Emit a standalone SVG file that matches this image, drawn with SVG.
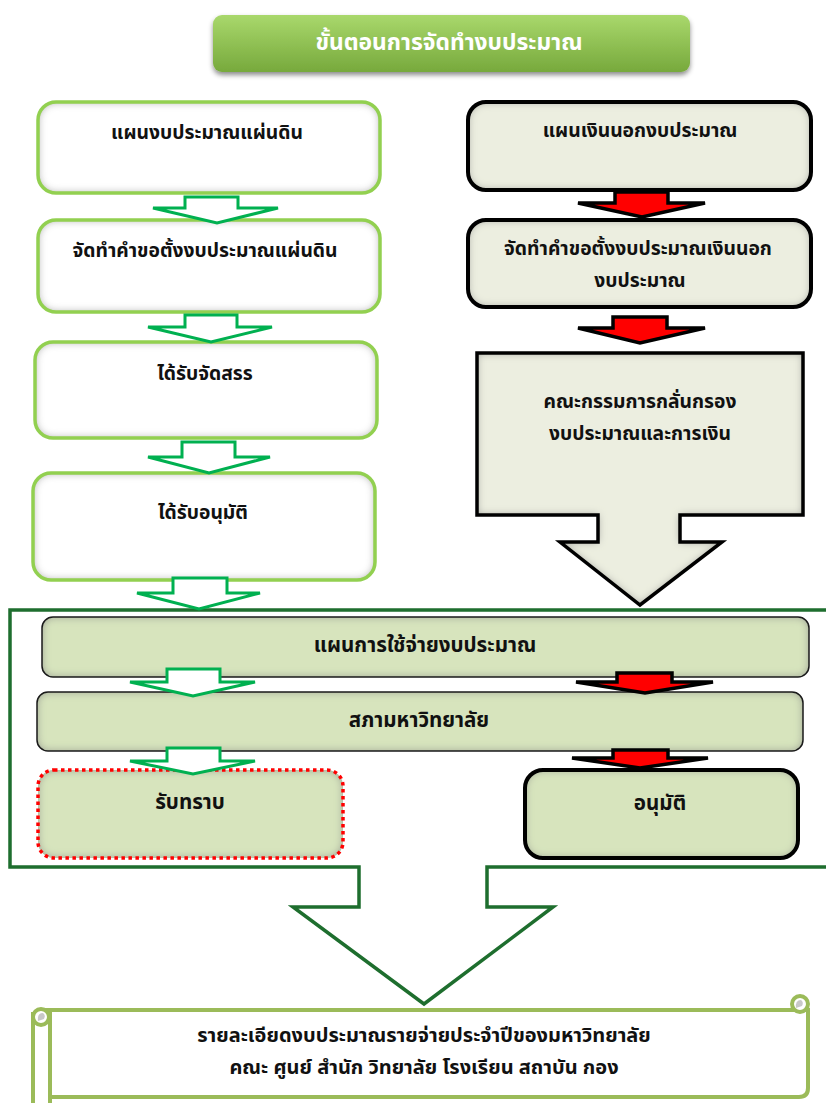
<svg xmlns="http://www.w3.org/2000/svg" width="826" height="1103" viewBox="0 0 826 1103">
<defs>
<linearGradient id="titleGrad" x1="0" y1="0" x2="0" y2="1">
<stop offset="0" stop-color="#a9d86c"/>
<stop offset="1" stop-color="#77a93c"/>
</linearGradient>
<filter id="drop" x="-10%" y="-20%" width="120%" height="160%">
<feDropShadow dx="0" dy="3" stdDeviation="2.5" flood-color="#000" flood-opacity="0.45"/>
</filter>
<filter id="inset" x="-5%" y="-10%" width="110%" height="120%">
<feFlood flood-color="#8a8a8a" result="c"/>
<feComposite in="c" in2="SourceAlpha" operator="out" result="o"/>
<feGaussianBlur in="o" stdDeviation="4" result="b"/>
<feComposite in="b" in2="SourceAlpha" operator="in" result="s"/>
<feMerge><feMergeNode in="SourceGraphic"/><feMergeNode in="s"/></feMerge>
</filter>
<style>
text{font-family:"Noto Sans Thai","Tahoma","Leelawadee UI","Noto Sans","DejaVu Sans",sans-serif;font-size:19.3px;font-weight:bold;fill:#111;text-anchor:middle}
text.in{font-size:20.6px}
text.sc{font-size:20px}
.title{fill:#fff;font-size:22.8px}
.gfill{fill:#fff}
.gstroke{fill:none;stroke:#92d050;stroke-width:3.5}
.rfill{fill:#eceee0}
.rstroke{fill:none;stroke:#000;stroke-width:4}
.ifill{fill:#d7e4bd}
.istroke{fill:none;stroke:#1a1a1a;stroke-width:1.5}
.dstroke{fill:none;stroke:#ff0000;stroke-width:3.5;stroke-dasharray:3.5 3.5}
.garrow{fill:#fff;stroke:#00b050;stroke-width:3;stroke-linejoin:miter}
.rarrow{fill:#ff0000;stroke:#000;stroke-width:3.5;stroke-linejoin:miter}
.frame{fill:none;stroke:#1e6e2e;stroke-width:3.5}
.scroll{fill:#fff;stroke:#9bbb59;stroke-width:4}
</style>
</defs>

<g id="title">
<rect x="213" y="15" width="477" height="57" rx="9" fill="url(#titleGrad)" filter="url(#drop)"/>
<text class="title" x="449" y="50">ขั้นตอนการจัดทำงบประมาณ</text>
</g>

<g id="frame">
<path class="frame" d="M830 610 H10 V867 H359 V907 H293 L424 1004 L553 907 H487 V867 H830"/>
</g>

<g id="left1">
<rect class="gfill" x="38" y="102" width="342" height="91" rx="18" filter="url(#inset)"/>
<rect class="gstroke" x="38" y="102" width="342" height="91" rx="18"/>
<text x="207" y="139">แผนงบประมาณแผ่นดิน</text>
</g>
<g id="left2">
<rect class="gfill" x="38" y="220" width="342" height="92" rx="18" filter="url(#inset)"/>
<rect class="gstroke" x="38" y="220" width="342" height="92" rx="18"/>
<text x="205" y="257">จัดทำคำขอตั้งงบประมาณแผ่นดิน</text>
</g>
<g id="left3">
<rect class="gfill" x="35" y="342" width="342" height="96" rx="18" filter="url(#inset)"/>
<rect class="gstroke" x="35" y="342" width="342" height="96" rx="18"/>
<text x="205" y="380">ได้รับจัดสรร</text>
</g>
<g id="left4">
<rect class="gfill" x="33" y="473" width="342" height="107" rx="18" filter="url(#inset)"/>
<rect class="gstroke" x="33" y="473" width="342" height="107" rx="18"/>
<text x="203" y="519">ได้รับอนุมัติ</text>
</g>

<g id="right1">
<rect class="rfill" x="468" y="102" width="343" height="88" rx="18" filter="url(#inset)"/>
<rect class="rstroke" x="468" y="102" width="343" height="88" rx="18"/>
<text x="640" y="137">แผนเงินนอกงบประมาณ</text>
</g>
<g id="right2">
<rect class="rfill" x="468" y="220" width="343" height="87" rx="18" filter="url(#inset)"/>
<rect class="rstroke" x="468" y="220" width="343" height="87" rx="18"/>
<text x="638" y="255">จัดทำคำขอตั้งงบประมาณเงินนอก</text>
<text x="640" y="287">งบประมาณ</text>
</g>
<g id="committee">
<path class="rfill" d="M477 353 H803 V515 H680 V542 H722 L640 605 L560 542 H598 V515 H477 Z" filter="url(#inset)"/>
<path fill="none" stroke="#000" stroke-width="3.5" stroke-linejoin="miter" d="M477 353 H803 V515 H680 V542 H722 L640 605 L560 542 H598 V515 H477 Z"/>
<text x="640" y="408">คณะกรรมการกลั่นกรอง</text>
<text x="640" y="440">งบประมาณและการเงิน</text>
</g>

<g id="plan">
<rect class="ifill" x="42" y="617" width="767" height="60" rx="11" filter="url(#inset)"/>
<rect class="istroke" x="42" y="617" width="767" height="60" rx="11"/>
<text class="in" x="425" y="652">แผนการใช้จ่ายงบประมาณ</text>
</g>
<g id="council">
<rect class="ifill" x="37" y="692" width="766" height="59" rx="11" filter="url(#inset)"/>
<rect class="istroke" x="37" y="692" width="766" height="59" rx="11"/>
<text class="in" x="419" y="727">สภามหาวิทยาลัย</text>
</g>
<g id="ack">
<rect class="ifill" x="38" y="770" width="305" height="88" rx="16" filter="url(#inset)"/>
<rect class="dstroke" x="38" y="770" width="305" height="88" rx="16"/>
<text class="in" x="190" y="809">รับทราบ</text>
</g>
<g id="approve">
<rect class="ifill" x="525" y="770" width="273" height="88" rx="18" filter="url(#inset)"/>
<rect class="rstroke" x="525" y="770" width="273" height="88" rx="18"/>
<text class="in" x="660" y="810">อนุมัติ</text>
</g>

<g id="connectors">
<path class="garrow" d="M185 197 H238 V208 H278 L217 223 L153 208 H185 Z"/>
<path class="garrow" d="M185 315 H237 V327 H272 L211 342 L148 327 H185 Z"/>
<path class="garrow" d="M182 442 H235 V457 H270 L209 473 L148 457 H182 Z"/>
<path class="garrow" d="M173 578 H227 V593 H260 L199 609 L137 593 H173 Z"/>
<path class="garrow" d="M167 669 H220 V682 H255 L193 696 L130 682 H167 Z"/>
<path class="garrow" d="M167 748 H220 V761 H255 L193 774 L130 761 H167 Z"/>
<path class="rarrow" d="M615 192 H668 V203 H705 L642 217 L578 203 H615 Z"/>
<path class="rarrow" d="M613 317 H667 V328 H705 L640 343 L578 328 H613 Z"/>
<path class="rarrow" d="M617 673 H672 V682 H713 L645 693 L576 682 H617 Z"/>
<path class="rarrow" d="M613 750 H668 V758 H708 L640 768 L572 758 H613 Z"/>
</g>

<g id="scroll">
<path class="scroll" d="M44 1010 H808 V1088 Q808 1097 799 1097 H50 Z"/>
<rect class="scroll" x="33" y="1014" width="17" height="100"/>
<circle class="scroll" cx="41" cy="1017" r="8"/>
<path d="M38 1021 Q37 1013 43 1013 Q46 1015 44 1019 Z" fill="#c8c8c8"/>
<circle class="scroll" cx="800" cy="1004" r="8"/>
<path d="M796 1008 Q795 1000 801 1000 Q804 1002 802 1006 Z" fill="#c8c8c8"/>
<text class="sc" x="424" y="1042">รายละเอียดงบประมาณรายจ่ายประจำปีของมหาวิทยาลัย</text>
<text class="sc" x="424" y="1074">คณะ ศูนย์ สำนัก วิทยาลัย โรงเรียน สถาบัน กอง</text>
</g>
</svg>
